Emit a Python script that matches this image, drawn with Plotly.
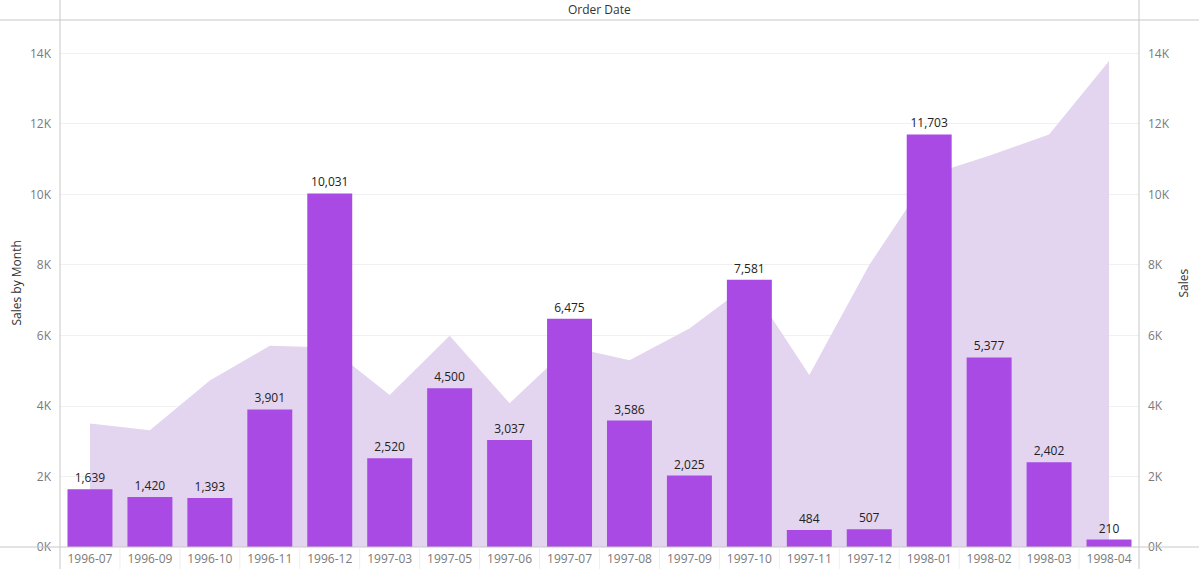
import plotly.graph_objects as go

# data
months = ['1996-07', '1996-09', '1996-10', '1996-11', '1996-12', '1997-03',
          '1997-05', '1997-06', '1997-07', '1997-08', '1997-09', '1997-10',
          '1997-11', '1997-12', '1998-01', '1998-02', '1998-03', '1998-04']
sales_by_month = [1639, 1420, 1393, 3901, 10031, 2520, 4500, 3037, 6475,
                  3586, 2025, 7581, 484, 507, 11703, 5377, 2402, 210]
sales_area = [3500, 3310, 4720, 5710, 5660, 4310, 5990, 4080, 5680,
              5300, 6200, 7470, 4880, 8000, 10550, 11100, 11700, 13790]
tick_vals = [0, 2000, 4000, 6000, 8000, 10000, 12000, 14000]
tick_text = ['0K', '2K', '4K', '6K', '8K', '10K', '12K', '14K']

W, H = 1199, 569
ML, MR, MT, MB = 60, 60, 20, 22
PW, PH = W - ML - MR, H - MT - MB

FONT = "Open Sans"
BAR_COLOR = '#A94AE5'
AREA_COLOR = '#E3D4EF'
LINE_COLOR = '#C8C8C8'
yrange = [0, 14950]

fig = go.Figure()

# area (right axis, drawn underneath)
fig.add_trace(go.Scatter(
    x=months, y=sales_area, yaxis='y', mode='lines',
    line=dict(width=0, color=AREA_COLOR), fill='tozeroy',
    fillcolor=AREA_COLOR, hoverinfo='skip', showlegend=False
))

# bars (left axis, on top)
fig.add_trace(go.Bar(
    x=months, y=sales_by_month, yaxis='y2', width=0.75,
    marker=dict(color=BAR_COLOR, line=dict(width=0)),
    text=[f'{v:,}' for v in sales_by_month], textposition='outside',
    textfont=dict(family=FONT, size=12, color='#222222'),
    cliponaxis=False, showlegend=False
))

axis_font = dict(family=FONT, size=12, color='#7a7a7a')

fig.update_layout(
    width=W, height=H,
    margin=dict(l=ML, r=MR, t=MT, b=MB, pad=0, autoexpand=False),
    plot_bgcolor='white', paper_bgcolor='white',
    bargap=0.25,
    xaxis=dict(
        type='category', showgrid=False, showline=False, zeroline=False,
        ticks='', tickfont=axis_font, range=[-0.5, len(months) - 0.5],
        automargin=False, ticklabelstandoff=3
    ),
    yaxis=dict(
        side='right', range=yrange, tickvals=tick_vals, ticktext=tick_text,
        tickfont=axis_font, showgrid=True, gridcolor='#F0F0F0',
        zeroline=False, showline=False, ticks='', ticklabelstandoff=8,
        automargin=False
    ),
    yaxis2=dict(
        overlaying='y', side='left', range=yrange, tickvals=tick_vals,
        ticktext=tick_text, tickfont=axis_font, showgrid=False,
        zeroline=False, showline=False, ticks='', ticklabelstandoff=8,
        automargin=False
    ),
)

# frame lines like the Tableau worksheet
lx = -ML / PW
rx = 1 + MR / PW
by = -MB / PH
ty = 1 + MT / PH
shapes = [
    dict(type='line', xref='paper', yref='paper', x0=lx, x1=rx, y0=1, y1=1,
         line=dict(color=LINE_COLOR, width=1)),
    dict(type='line', xref='paper', yref='paper', x0=lx, x1=rx, y0=0, y1=0,
         line=dict(color=LINE_COLOR, width=1)),
    dict(type='line', xref='paper', yref='paper', x0=0, x1=0, y0=by, y1=ty,
         line=dict(color=LINE_COLOR, width=1)),
    dict(type='line', xref='paper', yref='paper', x0=1, x1=1, y0=by, y1=ty,
         line=dict(color=LINE_COLOR, width=1)),
]
for i in range(len(months) - 1):
    shapes.append(dict(type='line', xref='x', yref='paper', x0=i + 0.5, x1=i + 0.5,
                       y0=by, y1=0, line=dict(color='#EFEFEF', width=1)))
fig.update_layout(shapes=shapes)

title_font = dict(family=FONT, size=12, color='#333333')
fig.add_annotation(text='Order Date', xref='paper', yref='paper', x=0.5, y=1 + 10 / PH,
                   showarrow=False, yanchor='middle', font=title_font)
fig.add_annotation(text='Sales by Month', xref='paper', yref='paper', x=-44 / PW, y=0.5,
                   showarrow=False, textangle=-90, xanchor='center', yanchor='middle',
                   font=title_font)
fig.add_annotation(text='Sales', xref='paper', yref='paper', x=1 + 44 / PW, y=0.5,
                   showarrow=False, textangle=-90, xanchor='center', yanchor='middle',
                   font=title_font)

# drop the default page margin so the figure sits at the window's corner
fig.write_html("out.html",
               config={'displayModeBar': False},
               post_script="document.body.style.margin='0px';"
                           "document.body.style.overflow='hidden';")
